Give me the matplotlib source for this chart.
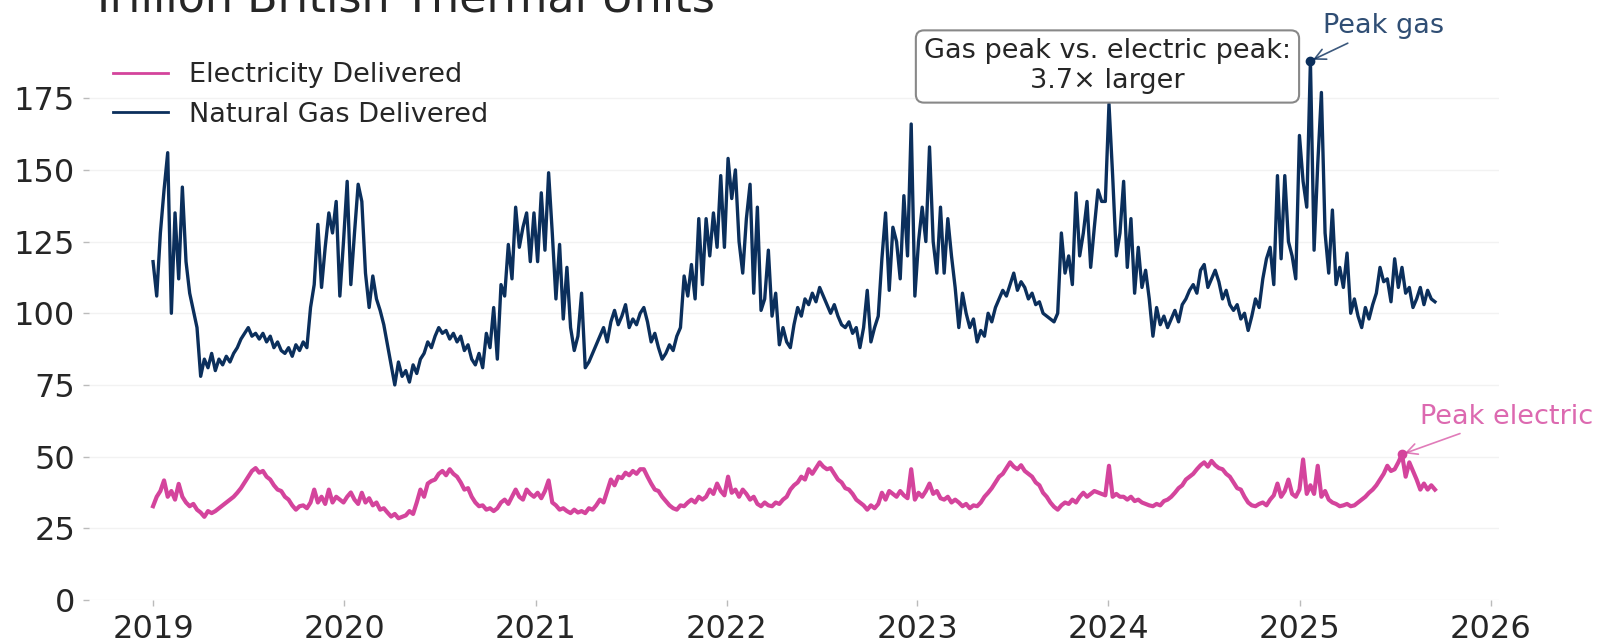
import numpy as np
import pandas as pd
import matplotlib
matplotlib.use("Agg")
import matplotlib.pyplot as plt
import matplotlib.dates as mdates

# weekly readings (trillion Btu), starting 2019-01-01
gas_2019 = [118, 106, 128, 143, 156, 100, 135, 112, 144, 118, 107, 101, 95,
            78, 84, 81, 86, 80, 84, 82, 85, 83, 86, 88, 91, 93,
            95, 92, 93, 91, 93, 90, 92, 88, 90, 87, 86, 88, 85,
            89, 87, 90, 88, 102, 110, 131, 109, 123, 135, 128, 139, 106]
gas_2020 = [125, 146, 110, 128, 145, 139, 114, 102, 113, 105, 101, 96, 89,
            82, 75, 83, 78, 80, 76, 82, 79, 84, 86, 90, 88, 92,
            95, 93, 94, 91, 93, 90, 92, 87, 89, 84, 82, 86, 81,
            93, 88, 102, 84, 110, 106, 124, 112, 137, 123, 130, 135, 118]
gas_2021 = [135, 118, 142, 122, 149, 128, 105, 124, 98, 116, 95, 87, 92,
            107, 81, 83, 86, 89, 92, 95, 90, 97, 101, 96, 99, 103,
            95, 98, 96, 100, 102, 97, 90, 93, 88, 84, 86, 89, 87,
            92, 95, 113, 106, 117, 105, 133, 110, 133, 120, 135, 123, 148]
gas_2022 = [123, 154, 140, 150, 125, 114, 133, 145, 107, 137, 101, 105, 122,
            99, 107, 89, 95, 90, 88, 96, 102, 99, 105, 103, 107, 104,
            109, 106, 103, 100, 103, 99, 96, 95, 97, 93, 95, 88, 95,
            108, 90, 95, 99, 119, 135, 108, 130, 125, 112, 141, 120, 166]
gas_2023 = [106, 125, 137, 125, 158, 125, 114, 137, 114, 133, 120, 109, 95,
            107, 100, 95, 98, 90, 94, 92, 100, 97, 102, 105, 108, 106,
            110, 114, 108, 111, 109, 105, 107, 103, 104, 100, 99, 98, 97,
            100, 128, 114, 120, 110, 142, 120, 128, 139, 116, 130, 143, 139]
gas_2024 = [139, 173, 148, 120, 128, 146, 116, 133, 107, 123, 109, 115, 105,
            92, 102, 96, 99, 95, 98, 101, 97, 103, 105, 108, 110, 107,
            115, 117, 109, 112, 115, 111, 105, 108, 103, 101, 103, 98, 100,
            94, 99, 105, 102, 112, 119, 123, 110, 148, 119, 148, 125, 120]
gas_2025 = [112, 162, 146, 137, 188, 122, 152, 177, 128, 114, 136, 110, 116,
            109, 121, 100, 105, 99, 95, 102, 98, 103, 107, 116, 111, 112,
            104, 119, 109, 116, 107, 109, 102, 105, 109, 103, 108, 105, 104]

elec_2019 = [32.7, 36, 38, 41.7, 36, 38, 35, 40.5, 36, 34, 32.7, 33.5, 31.5,
             30.5, 29, 31, 30.3, 31, 32, 33, 34, 35, 36, 37.4, 39, 41,
             43, 45, 46, 44.4, 45, 43, 42, 40, 38.5, 38, 36, 35, 33,
             31.5, 32.7, 33, 32, 34, 38.5, 34, 36, 33.5, 38.5, 34, 36, 35]
elec_2020 = [34, 36, 37.5, 35, 33.5, 37.4, 34, 35.5, 33, 34, 31.5, 32, 30.5,
             29.1, 30, 28.5, 29, 29.5, 31, 30, 34, 38.5, 36, 40.6, 41.5, 42,
             44, 45, 43.5, 45.6, 44, 43, 41, 38.5, 39, 36, 34, 32.7, 33,
             31.5, 32, 31, 32, 34, 35, 33.5, 36, 38.5, 36, 35, 38.5, 37]
elec_2021 = [36, 37.4, 35.5, 38, 41.7, 34, 33, 31.5, 32, 31, 30.3, 31.5, 30.5,
             31, 30.3, 32, 31.5, 33, 35, 34, 38, 42, 40, 43, 42.5, 44.4,
             43.5, 45, 44, 45.6, 45.6, 43, 40.6, 38.5, 38, 36, 34.5, 33, 32,
             31.5, 33, 32.7, 34, 35, 34, 36, 35, 36, 38.5, 37, 40.6, 38]
elec_2022 = [36.5, 43, 37.4, 38.5, 36, 38.5, 37, 35, 36, 33.5, 32.7, 34, 33,
             32.7, 34, 33.5, 35, 36, 38.5, 40, 41, 43, 42, 45.6, 44, 46,
             48, 46.5, 45.6, 46, 44, 42, 41, 39, 38.5, 37, 35, 34, 33,
             31.5, 33, 32, 33.5, 37.4, 35, 38, 37, 36, 38, 36.5, 35.5, 45.6]
elec_2023 = [35, 37.4, 36, 38, 40.6, 37, 38, 35.5, 35, 36, 34, 35, 34,
             32.7, 33.5, 32, 33, 32.7, 34, 36, 37.4, 39, 41, 43, 44, 46,
             48, 46.5, 45.6, 47, 45, 44, 43, 41, 40, 37.4, 36, 34, 32.5,
             31.5, 33, 34, 33.5, 35, 34, 36, 37.4, 36, 37, 38, 37.5, 37]
elec_2024 = [36.5, 46.8, 36, 37, 36, 36, 35, 36, 34.5, 35, 34, 33.5, 33,
             32.7, 33.5, 33, 34.5, 35, 36, 37.4, 39, 40, 42, 43, 44, 45.6,
             47, 48, 46.5, 48.5, 47, 46, 45.6, 44, 43, 41, 39, 38.5, 36,
             34, 33, 32.7, 33.5, 34, 33, 35, 36.5, 40.6, 36, 38, 42, 37]
elec_2025 = [36, 38.5, 49, 37, 40, 37, 46.8, 36, 38, 35, 34, 33.5, 32.7,
             33, 33.5, 32.7, 33, 34, 35, 36, 37.4, 38.5, 40, 42, 44, 46.8,
             45, 45.6, 48, 50.8, 43, 48, 45, 42, 38.5, 40.6, 38.5, 40, 38.5]

gas = np.array(gas_2019 + gas_2020 + gas_2021 + gas_2022 + gas_2023 + gas_2024 + gas_2025, dtype=float)
elec = np.array(elec_2019 + elec_2020 + elec_2021 + elec_2022 + elec_2023 + elec_2024 + elec_2025, dtype=float)
dates = pd.date_range("2019-01-01", periods=len(gas), freq="7D")

GAS = "#0b2f5c"
ELEC = "#d4449c"
TXT = "#262626"

fig = plt.figure(figsize=(16, 6.43), dpi=100)
ax = fig.add_axes([0.0556, 0.0669, 0.8813, 0.874])

ax.plot(dates, elec, color=ELEC, lw=3.0, label="Electricity Delivered")
ax.plot(dates, gas, color=GAS, lw=2.4, label="Natural Gas Delivered")

ax.set_ylim(0, 196)
ax.set_yticks(np.arange(0, 176, 25))
ax.xaxis.set_major_locator(mdates.YearLocator())
ax.xaxis.set_major_formatter(mdates.DateFormatter("%Y"))
ax.grid(axis="y", color="#f2f2f2", lw=1)
ax.set_axisbelow(True)
for s in ax.spines.values():
    s.set_visible(False)
ax.tick_params(labelsize=23, length=4, width=1, color="#bbbbbb", labelcolor=TXT, pad=6)

leg = ax.legend(loc="upper left", frameon=False, fontsize=19.5)
for line in leg.get_lines():
    line.set_linewidth(2.0)
for t in leg.get_texts():
    t.set_color(TXT)

# peaks
pg = int(np.argmax(gas))
pe = int(np.argmax(elec))
ratio = gas[pg] / elec[pe]

ax.plot(dates[pg], gas[pg], "o", color=GAS, ms=6, zorder=5)
ax.annotate("Peak gas", xy=(dates[pg], gas[pg]), xytext=(9, 25), textcoords="offset points",
            ha="left", va="center", fontsize=19.5, color=GAS, alpha=0.85,
            arrowprops=dict(arrowstyle="->", color=GAS, lw=1.2, alpha=0.8))

ax.plot(dates[pe], elec[pe], "o", color=ELEC, ms=6, zorder=5)
ax.annotate("Peak electric", xy=(dates[pe], elec[pe]), xytext=(13, 27), textcoords="offset points",
            ha="left", va="center", fontsize=19.5, color=ELEC, alpha=0.8,
            arrowprops=dict(arrowstyle="->", color=ELEC, lw=1.2, alpha=0.7))

ax.annotate(f"Gas peak vs. electric peak:\n{ratio:.1f}\u00d7 larger", xy=(dates[pg], gas[pg]),
            xytext=(-14, -4), textcoords="offset points", ha="right", va="center",
            multialignment="center", fontsize=19.5, color=TXT, zorder=6,
            bbox=dict(boxstyle="round,pad=0.3", fc="white", ec="#888888", lw=1.5))

# subtitle sits partly above the top edge, as in the source image
fig.text(0.0556, 1 - 12 / 643, "Trillion British Thermal Units", fontsize=32,
         ha="left", va="baseline", color=TXT)

fig.savefig("out.png", dpi=100)
